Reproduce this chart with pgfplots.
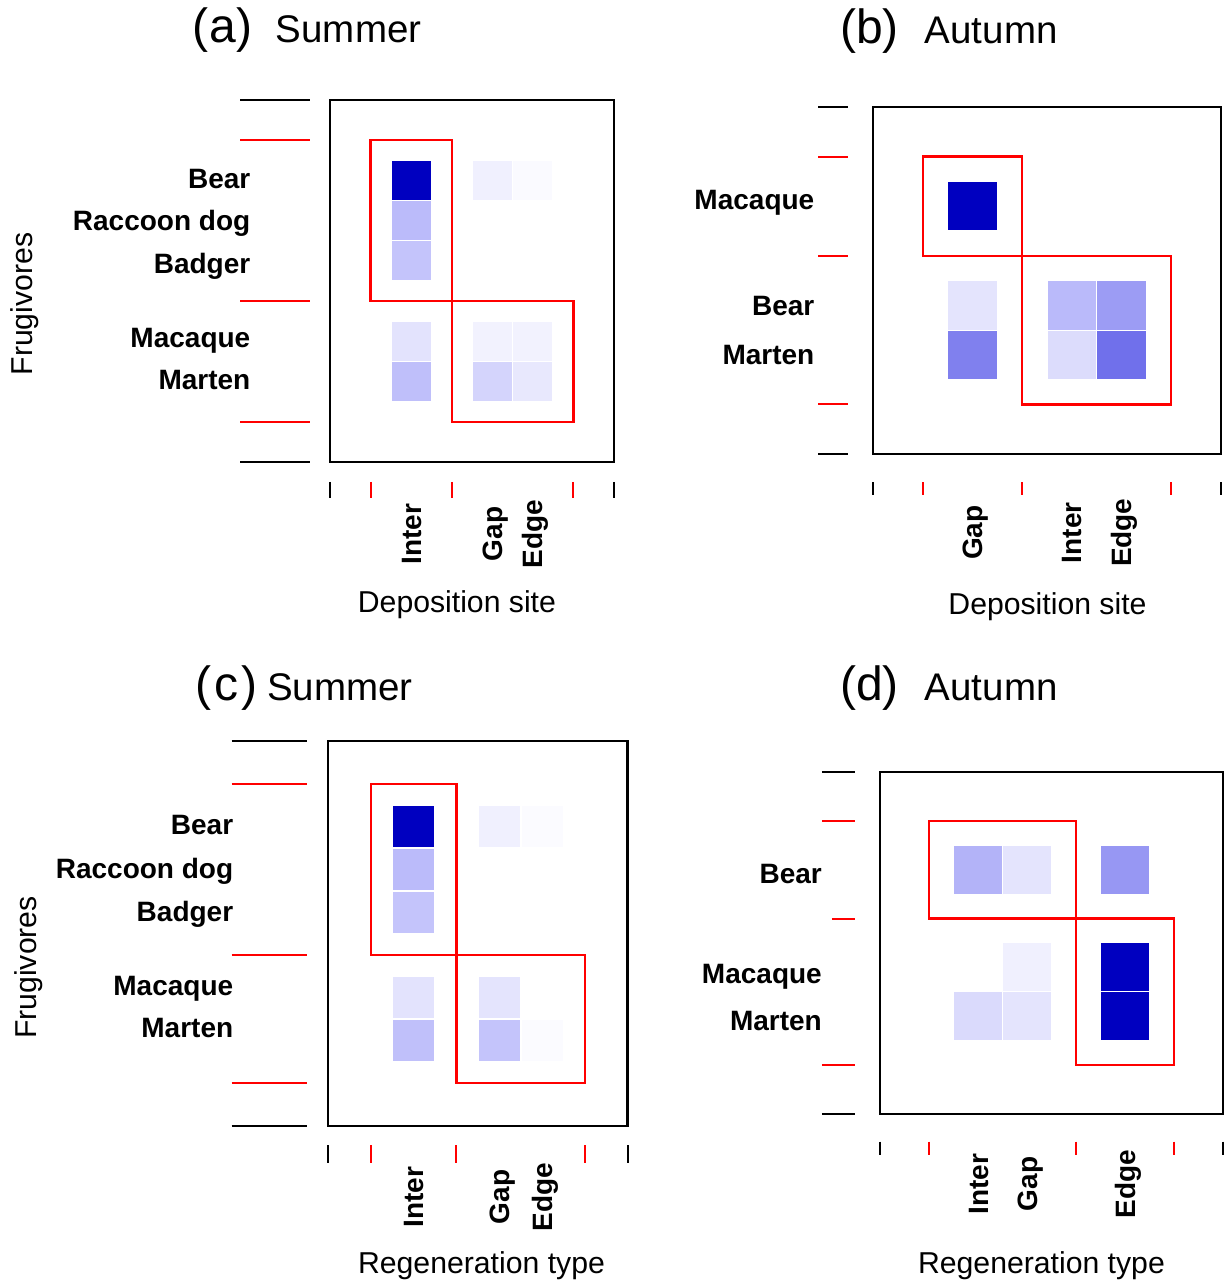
\documentclass[border=0pt]{standalone}
\usepackage{pgfplots}
\pgfplotsset{compat=1.18}
\usepackage{fontspec}
\setmainfont{Liberation Sans}
\pgfplotsset{colormap={mod}{rgb255(0cm)=(255,255,255) rgb255(27cm)=(187,187,250) rgb255(56cm)=(112,112,235) rgb255(100cm)=(0,0,192)}}
\newcommand\lab{\fontsize{28}{30}\selectfont\bfseries}
\newcommand\axlab{\fontsize{30.2}{32}\selectfont}
\newcommand\seg[5]{\addplot[#1, line width=2pt, mark=none, point meta=none, forget plot] coordinates {(#2,#3) (#4,#5)};}
\newcommand\modbox[4]{\addplot[red, line width=2.2pt, mark=none, point meta=none, line cap=rect, line join=miter, forget plot] coordinates {(#1,#3) (#2,#3) (#2,#4) (#1,#4) (#1,#3)};}
\pgfplotsset{
  mw/.style={scale only axis, clip=false, anchor=south west, major tick length=0pt,
    axis line style={line width=2.5pt, black},
    colormap name=mod, point meta min=0, point meta max=1,
    xticklabel style={font=\lab, inner sep=0pt, text height=20pt, text depth=0pt, anchor=center},
    yticklabel style={font=\lab, inner sep=0pt, text height=20pt, text depth=0pt, anchor=east},
    xlabel style={font=\axlab, inner sep=0pt, text height=21.6pt, text depth=0pt, anchor=center},
    ylabel style={font=\axlab, inner sep=0pt, text height=21.6pt, text depth=0pt, anchor=center},
    title style={inner sep=0pt, anchor=base west},
  },
  modcells/.style={scatter, only marks, mark=square*, point meta=\thisrow{w},
    scatter/use mapped color={draw=white, fill=mapped color, line width=1pt}},
}
\begin{document}
\begin{tikzpicture}
% ---------------- (a)
\begin{axis}[mw, at={(330pt,-462pt)}, width=284pt, height=362pt,
  xmin=-1, xmax=6, ymin=-1, ymax=8,
  xtick={1,3,4}, xticklabels={Inter,Gap,Edge},
  ytick={1.04,2.09,3.93,5.0,6.06}, yticklabels={Marten,Macaque,Badger,Raccoon dog,Bear},
  xticklabel style={yshift=-72pt, rotate=90},
  yticklabel style={xshift=-79.5pt},
  xlabel={Deposition site}, xlabel style={at={(axis description cs:0.447,-0.3867)}},
  ylabel={Frugivores}, ylabel style={at={(axis description cs:-1.0856,0.4365)}},
  title={{\fontsize{48}{50}\selectfont(\kern1pt a\kern1pt)}\hspace{23pt}{\fontsize{38.5}{44}\selectfont Summer}},
  title style={at={(axis description cs:-0.4859,1.1409)}},
]
\addplot[modcells, mark size=20pt] table {
x y w
1 6 1.00
1 5 0.27
1 4 0.235
1 2 0.11
1 1 0.255
3 6 0.06
3 2 0.05
3 1 0.17
4 6 0.02
4 2 0.05
4 1 0.09
};
\modbox{0}{2}{3}{7}
\modbox{2}{5}{0}{3}
\seg{black}{-3.218}{-1}{-1.493}{-1}
\seg{black}{-3.218}{8}{-1.493}{8}
\seg{red}{-3.218}{0}{-1.493}{0}
\seg{red}{-3.218}{3}{-1.493}{3}
\seg{red}{-3.218}{7}{-1.493}{7}
\seg{black}{-1}{-1.497}{-1}{-1.90}
\seg{black}{6}{-1.497}{6}{-1.90}
\seg{red}{0}{-1.497}{0}{-1.90}
\seg{red}{2}{-1.497}{2}{-1.90}
\seg{red}{5}{-1.497}{5}{-1.90}
\end{axis}
% ---------------- (b)
\begin{axis}[mw, at={(873pt,-454pt)}, width=348pt, height=347pt,
  xmin=-1, xmax=6, ymin=-1, ymax=6,
  xtick={1,3,4}, xticklabels={Gap,Inter,Edge},
  ytick={1.0,2.0,4.14}, yticklabels={Marten,Bear,Macaque},
  xticklabel style={yshift=-78.7pt, rotate=90},
  yticklabel style={xshift=-58.5pt},
  xlabel={Deposition site}, xlabel style={at={(axis description cs:0.5014,-0.4323)}},
  title={{\fontsize{48}{50}\selectfont(b)}\hspace{26pt}{\fontsize{38.5}{44}\selectfont Autumn}},
  title style={at={(axis description cs:-0.0948,1.1671)}},
]
\addplot[modcells, mark size=24.8pt] table {
x y w
1 4 1.00
1 2 0.106
1 1 0.50
3 2 0.275
3 1 0.137
4 2 0.39
4 1 0.56
};
\modbox{0}{2}{3}{5}
\modbox{2}{5}{0}{3}
\seg{black}{-2.106}{-1}{-1.503}{-1}
\seg{black}{-2.106}{6}{-1.503}{6}
\seg{red}{-2.106}{0}{-1.503}{0}
\seg{red}{-2.106}{3}{-1.503}{3}
\seg{red}{-2.106}{5}{-1.503}{5}
\seg{black}{-1}{-1.565}{-1}{-1.827}
\seg{black}{6}{-1.565}{6}{-1.827}
\seg{red}{0}{-1.565}{0}{-1.827}
\seg{red}{2}{-1.565}{2}{-1.827}
\seg{red}{5}{-1.565}{5}{-1.827}
\end{axis}
% ---------------- (c)
\begin{axis}[mw, at={(328pt,-1126pt)}, width=299.7pt, height=385pt,
  xmin=-1, xmax=6, ymin=-1, ymax=8,
  xtick={1,3,4}, xticklabels={Inter,Gap,Edge},
  ytick={1.30,2.29,4.02,5.02,6.04}, yticklabels={Marten,Macaque,Badger,Raccoon dog,Bear},
  xticklabel style={yshift=-71pt, rotate=90},
  yticklabel style={xshift=-94.6pt},
  xlabel={Regeneration type}, xlabel style={at={(axis description cs:0.5122,-0.3538)}},
  ylabel={Frugivores}, ylabel style={at={(axis description cs:-1.0093,0.4117)}},
  title={{\fontsize{48}{50}\selectfont(\kern3pt c\kern3pt)}\hspace{10pt}{\fontsize{38.5}{44}\selectfont Summer}},
  title style={at={(axis description cs:-0.4438,1.0909)}},
]
\addplot[modcells, mark size=21pt] table {
x y w
1 6 1.00
1 5 0.27
1 4 0.235
1 2 0.11
1 1 0.25
3 6 0.06
3 2 0.106
3 1 0.235
4 6 0.016
4 1 0.016
};
\modbox{0}{2}{3}{7}
\modbox{2}{5}{0}{3}
\seg{black}{-3.249}{-1}{-1.498}{-1}
\seg{black}{-3.249}{8}{-1.498}{8}
\seg{red}{-3.249}{0}{-1.498}{0}
\seg{red}{-3.249}{3}{-1.498}{3}
\seg{red}{-3.249}{7}{-1.498}{7}
\seg{black}{-1}{-1.444}{-1}{-1.865}
\seg{black}{6}{-1.444}{6}{-1.865}
\seg{red}{0}{-1.444}{0}{-1.865}
\seg{red}{2}{-1.444}{2}{-1.865}
\seg{red}{5}{-1.444}{5}{-1.865}
\end{axis}
% ---------------- (d)
\begin{axis}[mw, at={(880pt,-1114pt)}, width=343pt, height=342pt,
  xmin=-1, xmax=6, ymin=-1, ymax=6,
  xtick={1,2,4}, xticklabels={Inter,Gap,Edge},
  ytick={0.92,1.88,3.93}, yticklabels={Marten,Macaque,Bear},
  xticklabel style={yshift=-70pt, rotate=90},
  yticklabel style={xshift=-58pt},
  xlabel={Regeneration type}, xlabel style={at={(axis description cs:0.4708,-0.4333)}},
  title={{\fontsize{48}{50}\selectfont(d)}\hspace{26pt}{\fontsize{38.5}{44}\selectfont Autumn}},
  title style={at={(axis description cs:-0.1166,1.1930)}},
]
\addplot[modcells, mark size=24.5pt] table {
x y w
1 4 0.30
1 1 0.145
2 4 0.106
2 2 0.06
2 1 0.106
4 4 0.41
4 2 1.00
4 1 1.00
};
\modbox{0}{3}{3}{5}
\modbox{3}{5}{0}{3}
\seg{black}{-2.184}{-1}{-1.510}{-1}
\seg{black}{-2.184}{6}{-1.510}{6}
\seg{red}{-2.184}{0}{-1.510}{0}
\seg{red}{-1.98}{3}{-1.510}{3}
\seg{red}{-2.184}{5}{-1.510}{5}
\seg{black}{-1}{-1.567}{-1}{-1.839}
\seg{black}{6}{-1.567}{6}{-1.839}
\seg{red}{0}{-1.567}{0}{-1.839}
\seg{red}{3}{-1.567}{3}{-1.839}
\seg{red}{5}{-1.567}{5}{-1.839}
\end{axis}
\pgfresetboundingbox
\path[use as bounding box] (0pt,0pt) rectangle (1227pt,-1281pt);
\end{tikzpicture}
\end{document}
